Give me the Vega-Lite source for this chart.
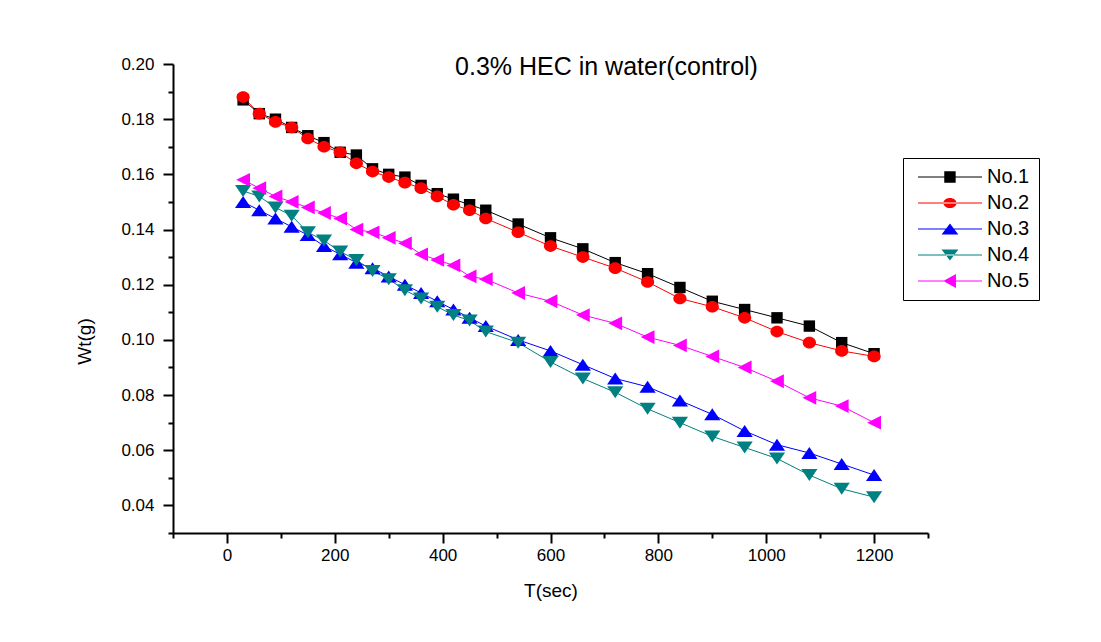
{
  "$schema": "https://vega.github.io/schema/vega-lite/v6.json",
  "width": 755,
  "height": 469,
  "autosize": {"type": "none"},
  "padding": {"left": 173, "top": 64, "right": 173, "bottom": 109},
  "background": "white",
  "title": {"text": "0.3% HEC in water(control)", "anchor": "middle", "frame": "group", "fontSize": 25, "fontWeight": "normal", "font": "Liberation Sans", "color": "black", "dx": 56, "dy": 45, "offset": 0, "baseline": "alphabetic"},
  "data": {"values": [
    {"T":30,"series":"No.1","Wt":0.187},{"T":60,"series":"No.1","Wt":0.182},{"T":90,"series":"No.1","Wt":0.180},{"T":120,"series":"No.1","Wt":0.177},{"T":150,"series":"No.1","Wt":0.174},{"T":180,"series":"No.1","Wt":0.1715},{"T":210,"series":"No.1","Wt":0.168},{"T":240,"series":"No.1","Wt":0.167},{"T":270,"series":"No.1","Wt":0.162},{"T":300,"series":"No.1","Wt":0.160},{"T":330,"series":"No.1","Wt":0.159},{"T":360,"series":"No.1","Wt":0.156},{"T":390,"series":"No.1","Wt":0.153},{"T":420,"series":"No.1","Wt":0.151},{"T":450,"series":"No.1","Wt":0.149},{"T":480,"series":"No.1","Wt":0.147},{"T":540,"series":"No.1","Wt":0.142},{"T":600,"series":"No.1","Wt":0.137},{"T":660,"series":"No.1","Wt":0.133},{"T":720,"series":"No.1","Wt":0.128},{"T":780,"series":"No.1","Wt":0.124},{"T":840,"series":"No.1","Wt":0.119},{"T":900,"series":"No.1","Wt":0.114},{"T":960,"series":"No.1","Wt":0.111},{"T":1020,"series":"No.1","Wt":0.108},{"T":1080,"series":"No.1","Wt":0.105},{"T":1140,"series":"No.1","Wt":0.099},{"T":1200,"series":"No.1","Wt":0.095},
    {"T":30,"series":"No.2","Wt":0.188},{"T":60,"series":"No.2","Wt":0.182},{"T":90,"series":"No.2","Wt":0.179},{"T":120,"series":"No.2","Wt":0.177},{"T":150,"series":"No.2","Wt":0.173},{"T":180,"series":"No.2","Wt":0.170},{"T":210,"series":"No.2","Wt":0.168},{"T":240,"series":"No.2","Wt":0.164},{"T":270,"series":"No.2","Wt":0.161},{"T":300,"series":"No.2","Wt":0.159},{"T":330,"series":"No.2","Wt":0.157},{"T":360,"series":"No.2","Wt":0.155},{"T":390,"series":"No.2","Wt":0.152},{"T":420,"series":"No.2","Wt":0.149},{"T":450,"series":"No.2","Wt":0.147},{"T":480,"series":"No.2","Wt":0.144},{"T":540,"series":"No.2","Wt":0.139},{"T":600,"series":"No.2","Wt":0.134},{"T":660,"series":"No.2","Wt":0.130},{"T":720,"series":"No.2","Wt":0.126},{"T":780,"series":"No.2","Wt":0.121},{"T":840,"series":"No.2","Wt":0.115},{"T":900,"series":"No.2","Wt":0.112},{"T":960,"series":"No.2","Wt":0.108},{"T":1020,"series":"No.2","Wt":0.103},{"T":1080,"series":"No.2","Wt":0.099},{"T":1140,"series":"No.2","Wt":0.096},{"T":1200,"series":"No.2","Wt":0.094},
    {"T":30,"series":"No.3","Wt":0.150},{"T":60,"series":"No.3","Wt":0.147},{"T":90,"series":"No.3","Wt":0.144},{"T":120,"series":"No.3","Wt":0.141},{"T":150,"series":"No.3","Wt":0.138},{"T":180,"series":"No.3","Wt":0.134},{"T":210,"series":"No.3","Wt":0.131},{"T":240,"series":"No.3","Wt":0.128},{"T":270,"series":"No.3","Wt":0.126},{"T":300,"series":"No.3","Wt":0.123},{"T":330,"series":"No.3","Wt":0.120},{"T":360,"series":"No.3","Wt":0.117},{"T":390,"series":"No.3","Wt":0.114},{"T":420,"series":"No.3","Wt":0.111},{"T":450,"series":"No.3","Wt":0.108},{"T":480,"series":"No.3","Wt":0.105},{"T":540,"series":"No.3","Wt":0.100},{"T":600,"series":"No.3","Wt":0.096},{"T":660,"series":"No.3","Wt":0.091},{"T":720,"series":"No.3","Wt":0.086},{"T":780,"series":"No.3","Wt":0.083},{"T":840,"series":"No.3","Wt":0.078},{"T":900,"series":"No.3","Wt":0.073},{"T":960,"series":"No.3","Wt":0.067},{"T":1020,"series":"No.3","Wt":0.062},{"T":1080,"series":"No.3","Wt":0.059},{"T":1140,"series":"No.3","Wt":0.055},{"T":1200,"series":"No.3","Wt":0.051},
    {"T":30,"series":"No.4","Wt":0.154},{"T":60,"series":"No.4","Wt":0.152},{"T":90,"series":"No.4","Wt":0.148},{"T":120,"series":"No.4","Wt":0.145},{"T":150,"series":"No.4","Wt":0.139},{"T":180,"series":"No.4","Wt":0.136},{"T":210,"series":"No.4","Wt":0.132},{"T":240,"series":"No.4","Wt":0.129},{"T":270,"series":"No.4","Wt":0.125},{"T":300,"series":"No.4","Wt":0.122},{"T":330,"series":"No.4","Wt":0.118},{"T":360,"series":"No.4","Wt":0.115},{"T":390,"series":"No.4","Wt":0.112},{"T":420,"series":"No.4","Wt":0.109},{"T":450,"series":"No.4","Wt":0.107},{"T":480,"series":"No.4","Wt":0.103},{"T":540,"series":"No.4","Wt":0.099},{"T":600,"series":"No.4","Wt":0.092},{"T":660,"series":"No.4","Wt":0.086},{"T":720,"series":"No.4","Wt":0.081},{"T":780,"series":"No.4","Wt":0.075},{"T":840,"series":"No.4","Wt":0.070},{"T":900,"series":"No.4","Wt":0.065},{"T":960,"series":"No.4","Wt":0.061},{"T":1020,"series":"No.4","Wt":0.057},{"T":1080,"series":"No.4","Wt":0.051},{"T":1140,"series":"No.4","Wt":0.046},{"T":1200,"series":"No.4","Wt":0.043},
    {"T":30,"series":"No.5","Wt":0.158},{"T":60,"series":"No.5","Wt":0.155},{"T":90,"series":"No.5","Wt":0.152},{"T":120,"series":"No.5","Wt":0.150},{"T":150,"series":"No.5","Wt":0.148},{"T":180,"series":"No.5","Wt":0.146},{"T":210,"series":"No.5","Wt":0.144},{"T":240,"series":"No.5","Wt":0.140},{"T":270,"series":"No.5","Wt":0.139},{"T":300,"series":"No.5","Wt":0.137},{"T":330,"series":"No.5","Wt":0.135},{"T":360,"series":"No.5","Wt":0.131},{"T":390,"series":"No.5","Wt":0.129},{"T":420,"series":"No.5","Wt":0.127},{"T":450,"series":"No.5","Wt":0.123},{"T":480,"series":"No.5","Wt":0.122},{"T":540,"series":"No.5","Wt":0.117},{"T":600,"series":"No.5","Wt":0.114},{"T":660,"series":"No.5","Wt":0.109},{"T":720,"series":"No.5","Wt":0.106},{"T":780,"series":"No.5","Wt":0.101},{"T":840,"series":"No.5","Wt":0.098},{"T":900,"series":"No.5","Wt":0.094},{"T":960,"series":"No.5","Wt":0.090},{"T":1020,"series":"No.5","Wt":0.085},{"T":1080,"series":"No.5","Wt":0.079},{"T":1140,"series":"No.5","Wt":0.076},{"T":1200,"series":"No.5","Wt":0.070}
  ]},
  "encoding": {
    "x": {"field": "T", "type": "quantitative",
      "scale": {"domain": [-100, 1300], "nice": false, "zero": false},
      "axis": {"values": [-100,0,100,200,300,400,500,600,700,800,900,1000,1100,1200,1300],
        "format": "d",
        "labelExpr": "datum.value % 200 == 0 ? datum.label : ''",
        "tickSize": {"condition": {"test": "datum.value % 200 == 0", "value": 10}, "value": 5},
        "title": "T(sec)", "grid": false,
        "domainColor": "black", "domainWidth": 2, "tickColor": "black", "tickWidth": 2,
        "labelFont": "Liberation Sans", "labelFontSize": 17, "labelColor": "black", "labelPadding": 4,
        "labelFlush": false, "labelOverlap": false,
        "titleFont": "Liberation Sans", "titleFontSize": 19, "titleFontWeight": "normal", "titleColor": "black",
        "titleX": 377.5, "titleY": 57, "titleBaseline": "middle", "titleAlign": "center"}},
    "y": {"field": "Wt", "type": "quantitative",
      "scale": {"domain": [0.03, 0.2], "nice": false, "zero": false},
      "axis": {"values": [0.03,0.04,0.05,0.06,0.07,0.08,0.09,0.1,0.11,0.12,0.13,0.14,0.15,0.16,0.17,0.18,0.19,0.2],
        "labelExpr": "round(datum.value*100) % 2 == 0 ? format(datum.value, '.2f') : ''",
        "tickSize": {"condition": {"test": "round(datum.value*100) % 2 == 0", "value": 10}, "value": 5},
        "title": "Wt(g)", "grid": false,
        "domainColor": "black", "domainWidth": 2, "tickColor": "black", "tickWidth": 2,
        "labelFont": "Liberation Sans", "labelFontSize": 17, "labelColor": "black", "labelPadding": 9,
        "labelFlush": false, "labelOverlap": false,
        "titleFont": "Liberation Sans", "titleFontSize": 19, "titleFontWeight": "normal", "titleColor": "black",
        "titleX": -89, "titleY": 277, "titleBaseline": "middle", "titleAlign": "center", "titleAngle": 270}}
  },
  "layer": [
    {
      "mark": {"type": "line", "strokeWidth": 1},
      "encoding": {
        "color": {"field": "series", "type": "nominal",
          "scale": {"domain": ["No.1","No.2","No.3","No.4","No.5"], "range": ["#000000","#ff0000","#0000ff","#008080","#ff00ff"]},
          "legend": null},
        "order": {"field": "T", "type": "quantitative"}
      }
    },
    {
      "mark": {"type": "point", "filled": true, "opacity": 1, "size": 144, "strokeWidth": 0},
      "encoding": {
        "color": {"field": "series", "type": "nominal",
          "scale": {"domain": ["No.1","No.2","No.3","No.4","No.5"], "range": ["#000000","#ff0000","#0000ff","#008080","#ff00ff"]},
          "legend": null},
        "shape": {"field": "series", "type": "nominal",
          "scale": {"domain": ["No.1","No.2","No.3","No.4","No.5"],
            "range": ["M-0.95,-0.95H0.95V0.95H-0.95Z",
                      "M-1.1,0A1.1,0.97,0,1,0,1.1,0A1.1,0.97,0,1,0,-1.1,0Z",
                      "M0,-1L1.35,1H-1.35Z",
                      "M0,1L1.35,-1H-1.35Z",
                      "M-1.15,0L1.15,-1.15V1.15Z"]},
          "legend": null}
      }
    },
    {
      "transform": [{"filter": "datum.T < -1000"}],
      "mark": {"type": "point", "filled": true, "opacity": 1, "size": 144, "strokeWidth": 0},
      "encoding": {
        "color": {"field": "series", "type": "nominal",
          "scale": {"domain": ["No.1","No.2","No.3","No.4","No.5"], "range": ["#000000","#ff0000","#0000ff","#008080","#ff00ff"]},
          "legend": {"title": null, "orient": "none", "legendX": 730, "legendY": 94,
            "symbolSize": 144, "symbolStrokeWidth": 0, "symbolOpacity": 1,
            "labelFont": "Liberation Sans", "labelFontSize": 20, "labelColor": "black", "labelOffset": 55,
            "padding": 9, "rowPadding": 6, "strokeColor": "black", "fillColor": "white"}},
        "shape": {"field": "series", "type": "nominal",
          "scale": {"domain": ["No.1","No.2","No.3","No.4","No.5"],
            "range": ["M-0.67,-0.09H10V0.09H-0.67ZM3.71,-0.95H5.61V0.95H3.71Z",
                      "M-0.67,-0.09H10V0.09H-0.67ZM3.56,0A1.1,0.85,0,1,0,5.76,0A1.1,0.85,0,1,0,3.56,0Z",
                      "M-0.67,-0.09H10V0.09H-0.67ZM4.66,-0.9L6.06,0.9H3.26Z",
                      "M-0.67,-0.09H10V0.09H-0.67ZM4.66,0.9L6.06,-0.9H3.26Z",
                      "M-0.67,-0.09H10V0.09H-0.67ZM3.56,0L5.66,-1.15V1.15Z"]}}
      }
    }
  ],
  "resolve": {"scale": {"color": "independent", "shape": "independent"}},
  "config": {"view": {"stroke": null}, "font": "Liberation Sans"}
}
